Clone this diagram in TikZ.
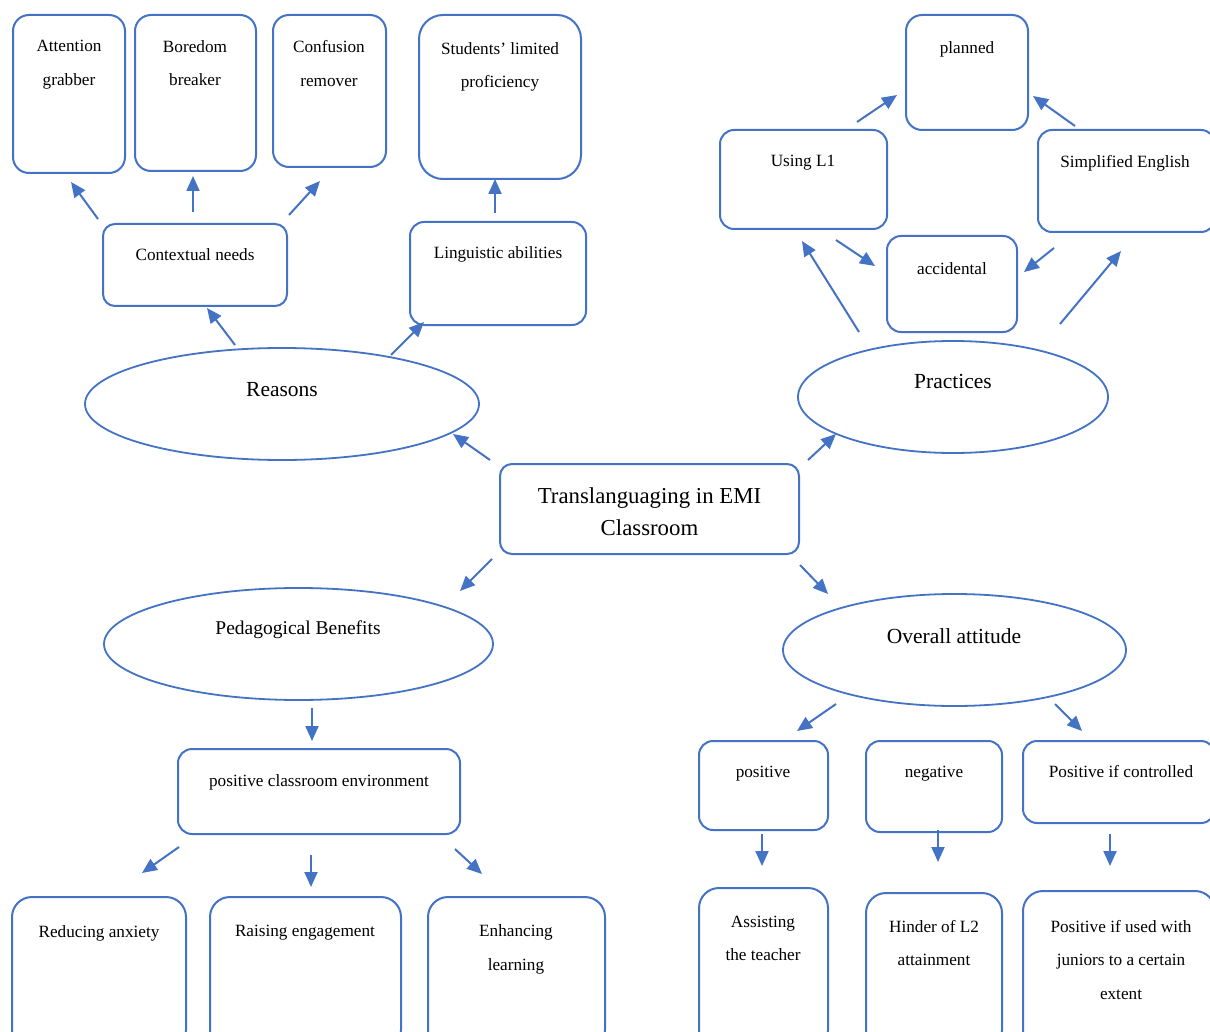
\documentclass[tikz,border=0pt]{standalone}
\usepackage{fontspec}
\setmainfont{Liberation Serif}
\usetikzlibrary{shapes.geometric,arrows.meta}
\definecolor{obl}{HTML}{4472C4}
\begin{document}
\begin{tikzpicture}[x=1pt,y=-1pt,
  box/.style={draw=obl,line width=2pt,rounded corners=14pt,inner sep=0pt},
  oval/.style={draw=obl,line width=1.8pt,ellipse,inner sep=0pt,minimum width=#1},
  txt/.style={font=\fontsize{17.2}{33.5}\selectfont,align=center,inner sep=0pt,anchor=center,yshift=-2pt},
  big/.style={font=\fontsize{21.5}{32}\selectfont,align=center,inner sep=0pt,anchor=center,yshift=-1pt},
  arr/.style={draw=obl,line width=2pt,-{Triangle[length=15pt,width=13pt]}}]
\useasboundingbox (0,0) rectangle (1210,1032);
\fill[white] (0,0) rectangle (1210,1032);
% boxes
\node[box,minimum width=112pt,minimum height=158pt,rounded corners=16pt] (att) at (69,94) {};
\node[box,minimum width=121pt,minimum height=156pt,rounded corners=16pt] (bor) at (195.5,93) {};
\node[box,minimum width=113pt,minimum height=152pt,rounded corners=16pt] (con) at (329.5,91) {};
\node[box,minimum width=162pt,minimum height=164pt,rounded corners=24pt] (stu) at (500,97) {};
\node[box,minimum width=184pt,minimum height=82pt,rounded corners=12pt] (ctx) at (195,265) {};
\node[box,minimum width=176pt,minimum height=103pt,rounded corners=14pt] (lin) at (498,273.5) {};
\node[box,minimum width=299pt,minimum height=90pt,rounded corners=12pt] (cen) at (649.5,509) {};
\node[box,minimum width=122pt,minimum height=115pt,rounded corners=16pt] (pla) at (967,72.5) {};
\node[box,minimum width=167pt,minimum height=99pt,rounded corners=14pt] (usi) at (803.5,179.5) {};
\node[box,minimum width=177pt,minimum height=102pt,rounded corners=14pt] (sim) at (1126.5,181) {};
\node[box,minimum width=130pt,minimum height=96pt,rounded corners=14pt] (acc) at (952,284) {};
\node[box,minimum width=282pt,minimum height=85pt,rounded corners=14pt] (env) at (319,791.5) {};
\node[box,minimum width=174pt,minimum height=153pt,rounded corners=20pt] (red) at (99,973.5) {};
\node[box,minimum width=191pt,minimum height=153pt,rounded corners=20pt] (rai) at (305.5,973.5) {};
\node[box,minimum width=177pt,minimum height=153pt,rounded corners=20pt] (enh) at (516.5,973.5) {};
\node[box,minimum width=129pt,minimum height=89pt,rounded corners=14pt] (pos) at (763.5,785.5) {};
\node[box,minimum width=136pt,minimum height=91pt,rounded corners=14pt] (neg) at (934,786.5) {};
\node[box,minimum width=192pt,minimum height=82pt,rounded corners=14pt] (ctl) at (1119,782) {};
\node[box,minimum width=129pt,minimum height=162pt,rounded corners=20pt] (ass) at (763.5,969) {};
\node[box,minimum width=136pt,minimum height=157pt,rounded corners=20pt] (hin) at (934,971.5) {};
\node[box,minimum width=192pt,minimum height=159pt,rounded corners=20pt] (jun) at (1119,970.5) {};
% ellipses
\node[oval=394pt,minimum height=112pt] (rea) at (282,404) {};
\node[oval=310pt,minimum height=112pt] (pra) at (953,397) {};
\node[oval=389pt,minimum height=112pt] (ped) at (298.5,644) {};
\node[oval=343pt,minimum height=112pt] (ove) at (954.5,650) {};
% texts
\node[txt] (att-t) at (69,62.5) {Attention\\grabber};
\node[txt] (bor-t) at (195,61) {Boredom\\breaker};
\node[txt] (con-t) at (329,61.5) {Confusion\\remover};
\node[txt] (stu-t) at (500,65) {Students’ limited\\proficiency};
\node[txt] (ctx-t) at (195,253) {Contextual needs};
\node[txt] (lin-t) at (498,252) {Linguistic abilities};
\node[big] (rea-t) at (282,389) {Reasons};
\node[big,font=\fontsize{22.8}{32}\selectfont] (cen-t) at (649.5,511) {Translanguaging in EMI\\Classroom};
\node[big] (pra-t) at (953,380) {Practices};
\node[big,font=\fontsize{19.5}{32}\selectfont] (ped-t) at (298,629) {Pedagogical Benefits};
\node[big,font=\fontsize{21.5}{32}\selectfont] (ove-t) at (954,635) {Overall attitude};
\node[txt] (pla-t) at (967,47) {planned};
\node[txt] (usi-t) at (803,161) {Using L1};
\node[txt] (sim-t) at (1125,161) {Simplified English};
\node[txt] (acc-t) at (952,267) {accidental};
\node[txt] (env-t) at (319,780) {positive classroom environment};
\node[txt] (red-t) at (99,931) {Reducing anxiety};
\node[txt] (rai-t) at (305,931) {Raising engagement};
\node[txt] (enh-t) at (516,947.5) {Enhancing\\learning};
\node[txt] (pos-t) at (763,772) {positive};
\node[txt] (neg-t) at (934,772) {negative};
\node[txt] (ctl-t) at (1121,770) {Positive if controlled};
\node[txt] (ass-t) at (763,936.5) {Assisting\\the teacher};
\node[txt] (hin-t) at (934,941) {Hinder of L2\\attainment};
\node[txt] (jun-t) at (1121,958) {Positive if used with\\juniors to a certain\\extent};
% arrow end points
\coordinate (c1s) at (98,219);   \coordinate (c1e) at (71,182);
\coordinate (c2s) at (193,212);  \coordinate (c2e) at (193,176);
\coordinate (c3s) at (289,215);  \coordinate (c3e) at (320,181);
\coordinate (c4s) at (495,213);  \coordinate (c4e) at (495,179);
\coordinate (c5s) at (235,345);  \coordinate (c5e) at (207,308);
\coordinate (c6s) at (391,355);  \coordinate (c6e) at (424,322);
\coordinate (c7s) at (490,460);  \coordinate (c7e) at (453,434);
\coordinate (c8s) at (808,460);  \coordinate (c8e) at (836,434);
\coordinate (c9s) at (492,559);  \coordinate (c9e) at (460,591);
\coordinate (c10s) at (800,565); \coordinate (c10e) at (828,594);
\coordinate (c11s) at (857,122); \coordinate (c11e) at (897,95);
\coordinate (c12s) at (1075,126);\coordinate (c12e) at (1033,96);
\coordinate (c13s) at (836,240); \coordinate (c13e) at (875,266);
\coordinate (c14s) at (1054,248);\coordinate (c14e) at (1024,272);
\coordinate (c15s) at (859,332); \coordinate (c15e) at (802,241);
\coordinate (c16s) at (1060,324);\coordinate (c16e) at (1121,251);
\coordinate (c17s) at (312,708); \coordinate (c17e) at (312,741);
\coordinate (c18s) at (179,847); \coordinate (c18e) at (142,873);
\coordinate (c19s) at (311,855); \coordinate (c19e) at (311,887);
\coordinate (c20s) at (455,849); \coordinate (c20e) at (482,874);
\coordinate (c21s) at (836,704); \coordinate (c21e) at (797,731);
\coordinate (c22s) at (1055,704);\coordinate (c22e) at (1082,731);
\coordinate (c23s) at (762,834); \coordinate (c23e) at (762,866);
\coordinate (c24s) at (938,830); \coordinate (c24e) at (938,862);
\coordinate (c25s) at (1110,834);\coordinate (c25e) at (1110,866);
\foreach \i in {1,...,25} {\draw[arr] (c\i s) -- (c\i e);}
\end{tikzpicture}
\end{document}
